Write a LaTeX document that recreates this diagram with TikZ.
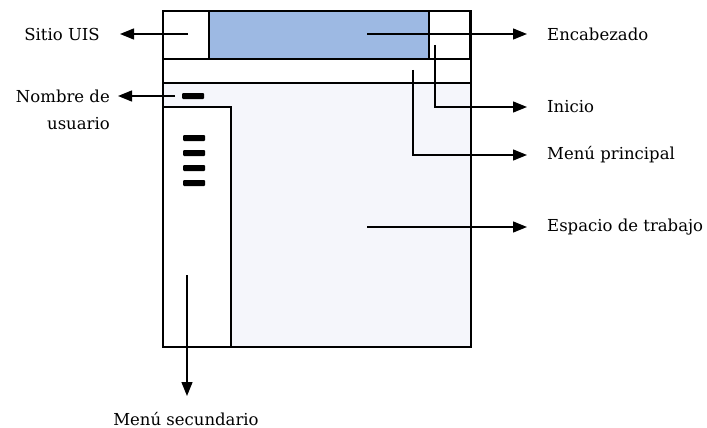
\documentclass[tikz,border=0pt]{standalone}
\usepackage{fontspec}
\setmainfont{DejaVu Serif}
\usetikzlibrary{arrows.meta}
\definecolor{hdrblue}{HTML}{9DB9E3}
\definecolor{workbg}{HTML}{F5F6FB}
\tikzset{
  lbl/.style={inner sep=0pt, font=\fontsize{16.5}{27}\selectfont},
  conn/.style={line width=1.3pt, -{Triangle[length=14pt,width=11pt]}},
  frame/.style={line width=1.4pt},
  bar/.style={fill=black, rounded corners=1pt},
}
\begin{document}
\begin{tikzpicture}[x=1pt,y=-1pt]
\useasboundingbox (0,0) rectangle (707,428);
% workspace background
\fill[workbg] (163,83) rectangle (471,347);
\fill[white] (163,11) rectangle (471,83);
\fill[hdrblue] (209,11) rectangle (429,59);
\fill[white] (163,107) rectangle (231,347);
% frames
\draw[frame] (163,11) rectangle (471,347);
\draw[frame] (163,59) -- (471,59);
\draw[frame] (163,83) -- (471,83);
\draw[frame] (209,11) -- (209,59);
\draw[frame] (429,11) -- (429,59);
\draw[line width=2.5pt] (470,11) -- (470,59);
\draw[frame] (163,107) -- (231,107) -- (231,347);
% bars
\fill[bar] (182,93) rectangle (204,99);
\foreach \y in {135,150,165,180} \fill[bar] (183,\y) rectangle (205,\y+6);
% labels
\node[lbl, anchor=east] (sitio) at (100,34) {Sitio UIS};
\node[lbl, anchor=north east, align=right] (nombre) at (110,90) {Nombre de\\usuario};
\node[lbl, anchor=west] (encab) at (547,34) {Encabezado};
\node[lbl, anchor=west] (inicio) at (547,107) {Inicio};
\node[lbl, anchor=west] (menup) at (547,155) {Menú principal};
\node[lbl, anchor=west] (espacio) at (547,227) {Espacio de trabajo};
\node[lbl] (menus) at (186,419) {Menú secundario};
% connector start points
\coordinate (sitioS) at (188,34);
\coordinate (encabS) at (367,34);
\coordinate (inicioS) at (435,45);
\coordinate (menupS) at (413,70);
\coordinate (espacioS) at (367,227);
\coordinate (nombreS) at (175,96);
\coordinate (nombreT) at (118,96);
\coordinate (menusS) at (187,275);
\coordinate (menusT) at (187,396);
% connectors
\draw[conn] (sitioS) -- ([xshift=20pt]sitio.east);
\draw[conn] (encabS) -- ([xshift=-20pt]encab.west);
\draw[conn] (inicioS) |- ([xshift=-20pt]inicio.west);
\draw[conn] (menupS) |- ([xshift=-20pt]menup.west);
\draw[conn] (espacioS) -- ([xshift=-20pt]espacio.west);
\draw[conn] (nombreS) -- (nombreT);
\draw[conn] (menusS) -- (menusT);
\end{tikzpicture}
\end{document}
